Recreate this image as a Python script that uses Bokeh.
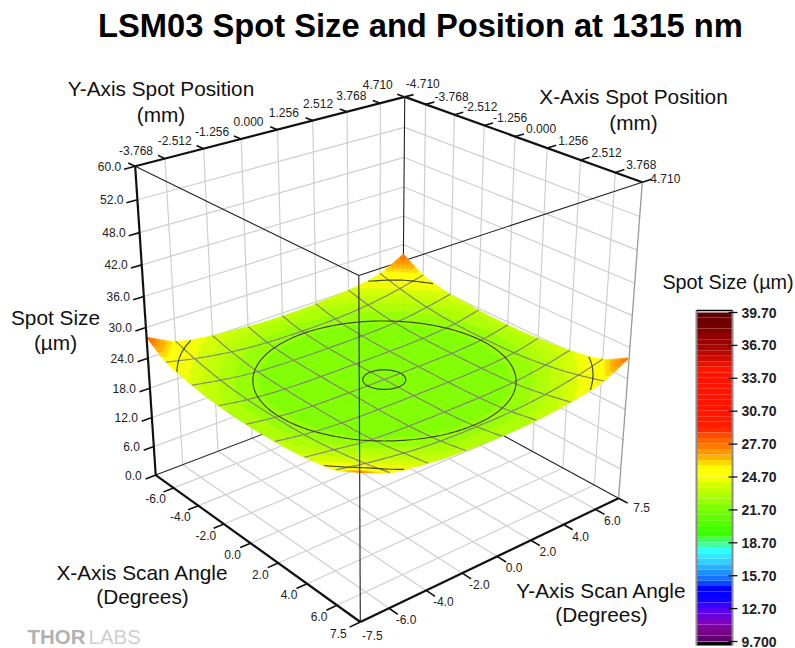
import numpy as np
from bokeh.plotting import figure
from bokeh.models import Range1d
from bokeh.core.properties import value
from bokeh.embed import file_html
from bokeh.resources import INLINE

FONT = "Liberation Sans"
TITLE = "LSM03 Spot Size and Position at 1315 nm"

# --- data -----------------------------------------------------------------
scan_ticks = [-6.0, -4.0, -2.0, 0.0, 2.0, 4.0, 6.0]
scan_limit = 7.5
scan_labels_x = ["-6.0", "-4.0", "-2.0", "0.0", "2.0", "4.0", "6.0", "7.5"]
scan_labels_y = ["-7.5", "-6.0", "-4.0", "-2.0", "0.0", "2.0", "4.0", "6.0", "7.5"]
spot_pos_labels_y = ["-3.768", "-2.512", "-1.256", "0.000", "1.256", "2.512", "3.768", "4.710"]
spot_pos_labels_x = ["-4.710", "-3.768", "-2.512", "-1.256", "0.000", "1.256", "2.512", "3.768", "4.710"]
z_ticks = [0, 6, 12, 18, 24, 30, 36, 42, 48, 54, 60]
z_labels = ["0.0", "6.0", "12.0", "18.0", "24.0", "30.0", "36.0", "42.0", "48.0", "52.0", "60.0"]
bar_ticks = [39.7, 36.7, 33.7, 30.7, 27.7, 24.7, 21.7, 18.7, 15.7, 12.7, 9.7]
bar_labels = ["39.70", "36.70", "33.70", "30.70", "27.70", "24.70", "21.70", "18.70", "15.70", "12.70", "9.700"]

grid_angle = [-7.5, -6.0, -4.5, -3.0, -1.5, 0.0, 1.5, 3.0, 4.5, 6.0, 7.5]
spot_size = [
    [28.1, 25.5, 24.4, 23.9, 23.5, 23.4, 23.5, 23.9, 24.4, 25.5, 28.0],
    [25.5, 24.3, 23.4, 22.8, 22.5, 22.45, 22.5, 22.8, 23.4, 24.3, 25.5],
    [24.4, 23.4, 22.6, 22.2, 22.05, 22.0, 22.05, 22.2, 22.6, 23.4, 24.4],
    [23.7, 22.8, 22.2, 21.95, 21.85, 21.85, 21.85, 21.95, 22.2, 22.8, 23.9],
    [23.3, 22.5, 22.05, 21.85, 21.8, 21.8, 21.8, 21.85, 22.05, 22.5, 23.5],
    [23.2, 22.45, 22.0, 21.85, 21.8, 21.8, 21.8, 21.85, 22.0, 22.45, 23.4],
    [23.3, 22.5, 22.05, 21.85, 21.8, 21.8, 21.8, 21.85, 22.05, 22.5, 23.5],
    [23.6, 22.8, 22.2, 21.95, 21.85, 21.85, 21.85, 21.95, 22.2, 22.8, 23.9],
    [24.2, 23.4, 22.6, 22.2, 22.05, 22.0, 22.05, 22.2, 22.6, 23.4, 24.4],
    [25.2, 24.2, 23.4, 22.8, 22.5, 22.45, 22.5, 22.8, 23.4, 24.3, 25.5],
    [27.5, 25.2, 24.2, 23.6, 23.3, 23.2, 23.3, 23.7, 24.4, 25.5, 28.0],
]
ring_radii = [0.95, 5.8, 9.1]

palette_z = [9.7, 10.0, 10.7, 11.5, 12.7, 13.5, 14.5, 15.2, 16.0, 17.0, 18.0, 18.5, 19.0, 19.2, 20.0,
             21.0, 22.0, 23.0, 24.0, 24.7, 25.5, 26.0, 26.5, 27.0, 27.7, 28.2, 28.7, 29.2, 31.0, 34.7,
             35.2, 36.0, 37.2, 38.5, 39.7]
palette_c = ["#500060", "#600070", "#800090", "#8000c0", "#5000ff", "#1000ff", "#0000ff", "#1060ff",
             "#1e90ff", "#30d0ff", "#30ffff", "#40ffa0", "#40ff60", "#30ff00", "#44ff00", "#60ff00",
             "#80ff00", "#acff00", "#d4ff00", "#ffff00", "#ffff00", "#ffd800", "#ffb000", "#ff9800",
             "#ff7000", "#ff6000", "#ff4000", "#ff1e00", "#ff1400", "#ff1400", "#d81000", "#b80800",
             "#980000", "#760000", "#5a0000"]
BAND = 0.5

# --- camera: the eight corners of the box as they sit on the page ----------
world_corners = [(-7.5, -7.5, 0), (7.5, -7.5, 0), (7.5, 7.5, 0), (-7.5, 7.5, 0),
                 (-7.5, -7.5, 60), (7.5, -7.5, 60), (7.5, 7.5, 60), (-7.5, 7.5, 60)]
page_corners = [(155, 474), (360, 622), (618, 497), (402, 381),
                (135, 166), (358, 275), (642, 182), (404, 96)]
rows, rhs = [], []
for (X, Y, Z), (u, v) in zip(world_corners, page_corners):
    rows.append([X, Y, Z, 1, 0, 0, 0, 0, -u * X, -u * Y, -u * Z]); rhs.append(u)
    rows.append([0, 0, 0, 0, X, Y, Z, 1, -v * X, -v * Y, -v * Z]); rhs.append(v)
cam = np.linalg.lstsq(np.array(rows, float), np.array(rhs, float), rcond=None)[0]
cam = np.append(cam, 1.0).reshape(3, 4)


def proj(x, y, z):
    x, y, z = np.asarray(x, float), np.asarray(y, float), np.asarray(z, float)
    pts = np.stack(np.broadcast_arrays(x, y, z, np.ones_like(x)), axis=-1)
    q = pts @ cam.T
    return q[..., 0] / q[..., 2], q[..., 1] / q[..., 2]


# --- smooth reading of the table ---------------------------------------------
G = np.array(grid_angle)
Zt = np.array(spot_size)
Zp = np.pad(Zt, 1, mode="reflect", reflect_type="odd")


def _w(t):
    return np.stack([-0.5 * t + t**2 - 0.5 * t**3, 1 - 2.5 * t**2 + 1.5 * t**3,
                     0.5 * t + 2 * t**2 - 1.5 * t**3, -0.5 * t**2 + 0.5 * t**3], -1)


def surf(x, y):
    x, y = np.broadcast_arrays(np.asarray(x, float), np.asarray(y, float))
    fx = np.clip((x - G[0]) / 1.5, 0, 9.9999)
    fy = np.clip((y - G[0]) / 1.5, 0, 9.9999)
    ix, iy = fx.astype(int), fy.astype(int)
    wx, wy = _w(fx - ix), _w(fy - iy)
    out = np.zeros(x.shape)
    for a in range(4):
        for b in range(4):
            out += wx[..., a] * wy[..., b] * Zp[ix + a, iy + b]
    return out


def hex2rgb(h):
    return [int(h[i:i + 2], 16) for i in (1, 3, 5)]


pal_rgb = np.array([hex2rgb(c) for c in palette_c], float)


def band_color(z):
    zq = np.floor((z + 0.25) / BAND) * BAND
    r = [np.interp(zq, palette_z, pal_rgb[:, i]) for i in range(3)]
    return "#%02x%02x%02x" % tuple(int(round(float(c))) for c in r)


# --- figure -----------------------------------------------------------------
p = figure(width=795, height=648, x_range=Range1d(0, 795), y_range=Range1d(648, 0),
           output_backend="svg", toolbar_location=None, min_border=0)
p.axis.visible = False
p.grid.visible = False
p.outline_line_color = None
p.background_fill_color = "white"
p.styles = {"position": "absolute", "left": "0px", "top": "0px"}


def seg(a, b, n=2):
    t = np.linspace(0, 1, n)
    a, b = np.array(a, float), np.array(b, float)
    w = a[None, :] + (b - a)[None, :] * t[:, None]
    return proj(w[:, 0], w[:, 1], w[:, 2])


def lines(segs, color, width):
    xs, ys = [], []
    for a, b in segs:
        u, v = seg(a, b)
        xs.append(u.tolist()); ys.append(v.tolist())
    p.multi_line(xs, ys, line_color=color, line_width=width)


L = scan_limit
gs = []
for t in scan_ticks:
    gs += [((-L, t, 0), (-L, t, 60)), ((t, L, 0), (t, L, 60)),
           ((t, -L, 0), (t, L, 0)), ((-L, t, 0), (L, t, 0))]
for z in z_ticks[1:-1]:
    gs += [((-L, -L, z), (-L, L, z)), ((-L, L, z), (L, L, z))]
lines(gs, "#cfcfcf", 1.2)
lines([((-L, -L, 0), (-L, L, 0)), ((-L, L, 0), (L, L, 0)), ((-L, L, 0), (-L, L, 60))], "#222222", 1.1)
lines([((-L, -L, 60), (L, -L, 60)), ((L, -L, 60), (L, L, 60))], "#222222", 1.1)

# surface, back to front
N = 100
e = np.linspace(-L, L, N + 1)
mx, my = np.meshgrid(e, e, indexing="ij")
mz = surf(mx, my)
u, v = proj(mx, my, mz)
cells = sorted(((i, j) for i in range(N) for j in range(N)), key=lambda c: c[0] - c[1])
qx, qy, qc = [], [], []
for i, j in cells:
    qx.append([u[i, j], u[i + 1, j], u[i + 1, j + 1], u[i, j + 1]])
    qy.append([v[i, j], v[i + 1, j], v[i + 1, j + 1], v[i, j + 1]])
    qc.append(band_color(0.25 * (mz[i, j] + mz[i + 1, j] + mz[i + 1, j + 1] + mz[i, j + 1])))
p.patches(qx, qy, fill_color=qc, line_color=qc, line_width=0.6)

# mesh lines on the surface
fine = np.linspace(-L, L, 121)
mxs, mys = [], []
for t in scan_ticks:
    a, b = proj(np.full_like(fine, t), fine, surf(np.full_like(fine, t), fine))
    mxs.append(a.tolist()); mys.append(b.tolist())
    a, b = proj(fine, np.full_like(fine, t), surf(fine, np.full_like(fine, t)))
    mxs.append(a.tolist()); mys.append(b.tolist())
p.multi_line(mxs, mys, line_color="#808a68", line_width=1.2)

# rings of equal scan radius
th = np.radians(np.arange(0, 360.5, 1.0))
for r in ring_radii:
    cx, cy = r * np.cos(th), r * np.sin(th)
    a, b = proj(cx, cy, surf(cx, cy))
    a = a.astype(float); b = b.astype(float)
    off = (np.abs(cx) > L) | (np.abs(cy) > L)
    a[off] = np.nan; b[off] = np.nan
    p.line(a.tolist(), b.tolist(), line_color="#3c4a30", line_width=1.2)

# front edges, axes
lines([((L, -L, 0), (L, -L, 60))], "#333333", 1.2)
lines([((L, L, 0), (L, L, 60))], "#999999", 1.3)
lines([((-L, -L, 0), (-L, -L, 60)), ((-L, -L, 0), (L, -L, 0)), ((L, -L, 0), (L, L, 0)),
       ((-L, -L, 60), (-L, L, 60)), ((-L, L, 60), (L, L, 60))], "#111111", 2.2)

TK = 0.55
tk = []
for t in scan_ticks + [L]:
    tk.append(((-L, -t if t == L else t, 60), (-L - TK, -t if t == L else t, 60)))
for t in scan_ticks + [L]:
    tk.append(((t, L, 60), (t, L + TK, 60)))
tk.append(((-L, L, 60), (-L - TK, L, 60)))
tk.append(((-L, L, 60), (-L, L + TK, 60)))
for t in scan_ticks + [L]:
    tk.append(((t, -L, 0), (t, -L - TK, 0)))
for t in scan_ticks + [L]:
    tk.append(((L, t, 0), (L + TK, t, 0)))
for z in z_ticks:
    tk.append(((-L, -L, z), (-L, -L - TK, z)))
lines(tk, "#111111", 1.6)


def text(x, y, s, size, color="#111111", style="normal", align="center", baseline="middle"):
    p.text(x, y, text=s, text_font=value(FONT), text_font_size=size, text_color=color,
           text_font_style=style, text_align=align, text_baseline=baseline)


def tick_text(pts, labels, dx, dy, align="center"):
    a, b = proj(*np.array(pts, float).T)
    text((a + np.asarray(dx)).tolist(), (b + np.asarray(dy)).tolist(), labels, "12px", "#222222", align=align)


tick_text([(-L, t, 60) for t in scan_ticks + [L]], spot_pos_labels_y,
          [-29] * 7 + [-27], [-8] * 7 + [-12])
tick_text([(t, L, 60) for t in [-L] + scan_ticks + [L]], spot_pos_labels_x,
          [18] + [26] * 7 + [23], [-13] + [-8] * 7 + [-4])
tick_text([(t, -L, 0) for t in scan_ticks + [L]], scan_labels_x,
          [-18] * 7 + [-22], [11] * 7 + [12])
tick_text([(L, t, 0) for t in [-L] + scan_ticks + [L]], scan_labels_y,
          [12] + [17] * 7 + [23], [14] + [11.5] * 7 + [9])
tick_text([(-L, -L, z) for z in z_ticks], z_labels, -14, 0, align="right")

# titles
text([420], [25], [TITLE], "32.7px", "#000000", "bold")
text([160.5, 160.5], [88, 114], ["Y-Axis Spot Position", "(mm)"], "20.8px")
text([633, 633], [96, 122], ["X-Axis Spot Position", "(mm)"], "20.8px")
text([55, 55], [317, 342], ["Spot Size", "(µm)"], "20.8px")
text([142, 142], [572, 596], ["X-Axis Scan Angle", "(Degrees)"], "20.8px")
text([601, 601], [590, 614], ["Y-Axis Scan Angle", "(Degrees)"], "20.8px")
text([727.5], [281], ["Spot Size (µm)"], "19.8px")

# colour bar
bar_scale = (641.0 - 312.0) / (39.7 - 9.7)
bar_y = lambda z: 641.0 - (np.asarray(z, float) - 9.7) * bar_scale
edges = np.arange(9.75, 39.75, BAND)
tops = np.append(edges[1:], 39.7)
p.quad(left=696, right=732, bottom=645, top=641, fill_color="#000000", line_color=None)
p.quad(left=696, right=732, bottom=bar_y(edges).tolist(), top=bar_y(tops).tolist(),
       fill_color=[band_color(0.5 * (a + b)) for a, b in zip(edges, tops)],
       line_color=None)
p.segment(x0=[696, 732], y0=[310, 310], x1=[696, 732], y1=[645, 645], line_color="#8c8c8c", line_width=2)
p.segment(x0=[696], y0=[310], x1=[732], y1=[310], line_color="#000000", line_width=1.4)
by = bar_y(bar_ticks).tolist()
p.segment(x0=[728] * len(by), y0=by, x1=[737] * len(by), y1=by, line_color="#111111", line_width=1.3)
text([741] * len(by), by, bar_labels, "14px", "#222222", "bold", align="left")

# logo
text([27], [636], ["THOR"], "20.5px", "#b2b2b2", "bold", align="left")
text([88], [636], ["LABS"], "20.5px", "#cfcfcf", "normal", align="left")

html = file_html(p, INLINE)
html = html.replace("<head>", "<head><style>html,body{margin:0;padding:0;overflow:hidden}</style>", 1)
open("out.html", "w").write(html)
